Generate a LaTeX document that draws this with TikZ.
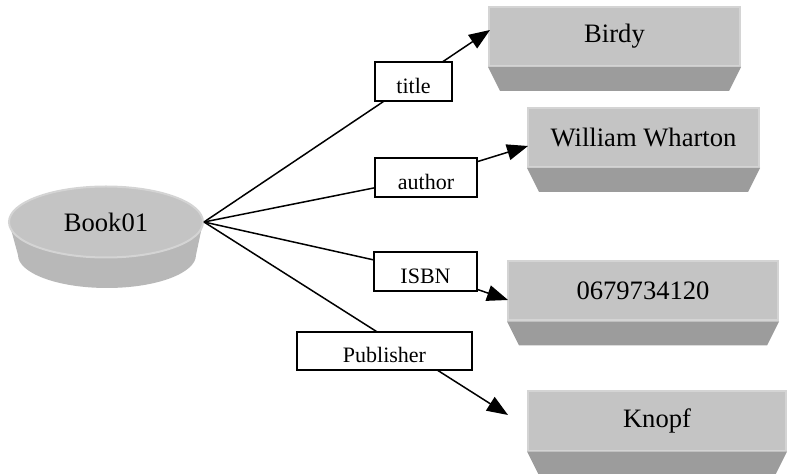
\documentclass[tikz,border=0pt]{standalone}
\usepackage{fontspec}
\setmainfont{Liberation Serif}
\usetikzlibrary{shapes.geometric,arrows.meta}
\definecolor{facegray}{HTML}{C4C4C4}
\definecolor{rimgray}{HTML}{D4D4D4}
\definecolor{sidegray}{HTML}{9C9C9C}
\definecolor{dishgray}{HTML}{B8B8B8}
\tikzset{
  valuebox/.style={draw=rimgray, line width=1pt, fill=facegray, minimum height=29.5pt,
    inner sep=0pt, font=\fontsize{13.3}{15}\selectfont},
  propbox/.style={draw, fill=white, line width=0.8pt, minimum height=19.5pt,
    inner sep=0pt, text height=12pt, text depth=0pt, font=\fontsize{11}{13}\selectfont},
  link/.style={line width=0.75pt},
  hasarrow/.style={link, -{Triangle[length=10.5pt,width=8pt]}}
}
\begin{document}
\begin{tikzpicture}[x=0.5pt,y=-0.5pt]
  \useasboundingbox (0,0) rectangle (790,474);
  \clip (0,0) rectangle (790,474);
  % the resource (dish)
  \fill[dishgray] (9,222) -- (18,255) -- (196,255) -- (203,222) -- cycle;
  \node[ellipse, fill=dishgray, minimum width=89pt, minimum height=33pt] (bookbase) at (107,255) {};
  \node[ellipse, valuebox, minimum width=97pt, minimum height=35.5pt] (book) at (106,222) {Book01};
  % the values
  \node[valuebox, minimum width=125.5pt] (birdy) at (614.5,36.5) {Birdy};
  \node[valuebox, minimum width=115.5pt] (wharton) at (643.5,137.5) {William Wharton};
  \node[valuebox, minimum width=135pt] (isbn) at (643,291) {0679734120};
  \node[valuebox, minimum width=129pt] (knopf) at (657,421) {Knopf};
  \foreach \n in {birdy,wharton,isbn,knopf}
    \fill[sidegray] (\n.south west) -- (\n.south east) -- ([xshift=-6pt,yshift=-12pt]\n.south east)
      -- ([xshift=6pt,yshift=-12pt]\n.south west) -- cycle;
  % arrow ends and label places
  \coordinate (tipA) at (490,30);
  \coordinate (tipB) at (528,146);
  \coordinate (tipC) at (508,300);
  \coordinate (tipD) at (508,415);
  \coordinate (pTitle) at (413.5,81.5);
  \coordinate (pAuthor) at (426,177.5);
  \coordinate (pIsbn) at (425.5,271.5);
  \coordinate (pPublisher) at (384.5,351);
  % properties
  \draw[hasarrow] (book.east) -- (tipA);
  \draw[hasarrow] (book.east) -- (pAuthor) -- (tipB);
  \draw[hasarrow] (book.east) -- (pIsbn) -- (tipC);
  \draw[hasarrow] (book.east) -- (tipD);
  \node[propbox, minimum width=38.5pt] (lTitle) at (pTitle) {title};
  \node[propbox, minimum width=51pt] (lAuthor) at (pAuthor) {author};
  \node[propbox, minimum width=51.5pt] (lIsbn) at (pIsbn) {ISBN};
  \node[propbox, minimum width=87.5pt, minimum height=19pt] (lPublisher) at (pPublisher) {Publisher};
\end{tikzpicture}
\end{document}
